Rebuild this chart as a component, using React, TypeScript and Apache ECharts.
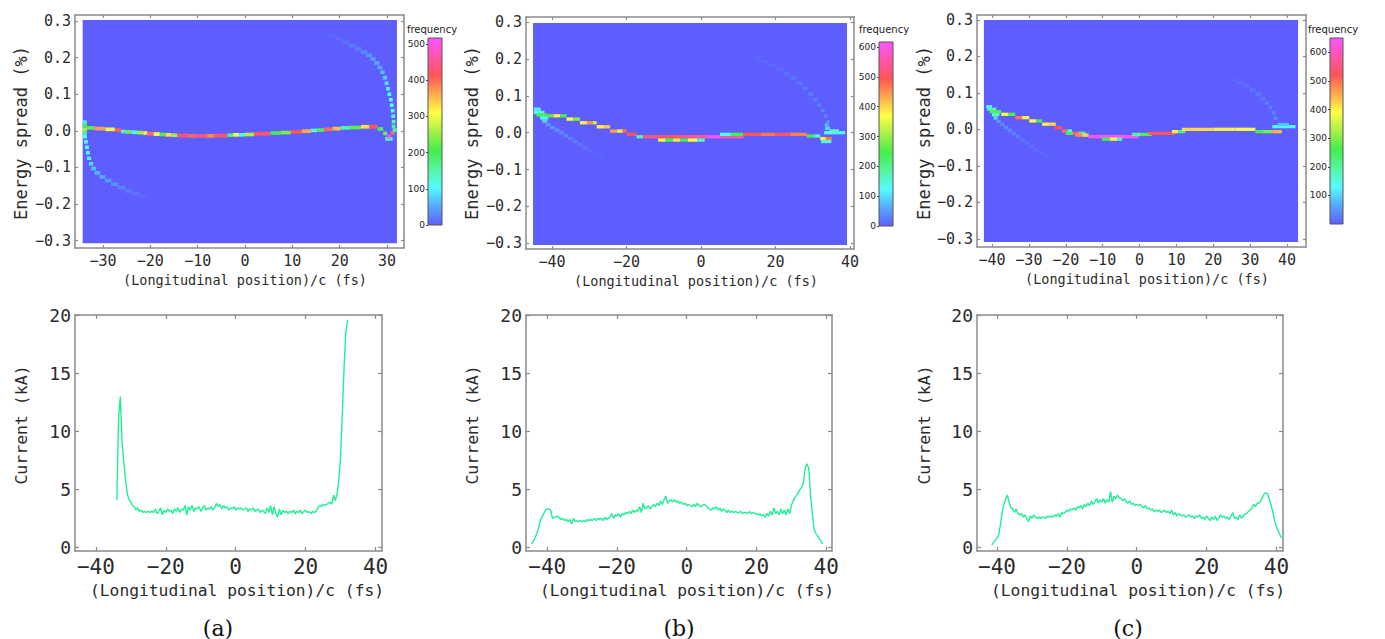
import React, { useEffect, useRef } from 'react';
import * as echarts from 'echarts';

// Current profiles (kA), sampled every CURRENT_STEP fs from the given start position.
const CURRENT_STEP = 0.5;

const CURRENT_A_START = -34;
const CURRENT_A = [
  4.1, 11.2, 13.0, 9.0, 7.3, 5.8, 4.6, 4.1, 3.9, 3.6, 3.5, 3.2, 3.4, 3.1, 3.2, 3.0, 3.1, 3.0, 3.1, 3.0,
  3.1, 3.0, 3.3, 2.9, 3.1, 3.4, 2.8, 3.2, 3.0, 3.3, 3.1, 3.2, 2.9, 3.3, 3.1, 3.4, 3.0, 3.3, 3.2, 3.6,
  2.8, 3.5, 3.2, 3.6, 3.1, 3.4, 3.3, 3.5, 3.1, 3.4, 3.6, 3.2, 3.4, 3.3, 3.5, 3.2, 3.4, 3.8, 3.5, 3.7,
  3.3, 3.6, 3.4, 3.5, 3.2, 3.4, 3.3, 3.5, 3.2, 3.4, 3.3, 3.4, 3.2, 3.3, 3.4, 3.1, 3.3, 3.2, 3.4, 3.1,
  3.2, 3.3, 3.0, 3.2, 3.1, 2.9, 3.4, 3.0, 3.6, 2.8, 3.5, 2.9, 2.6, 3.3, 2.8, 3.2, 3.0, 3.1, 2.9, 3.1,
  3.0, 3.2, 2.9, 3.1, 3.0, 3.2, 2.9, 3.1, 3.2, 3.0, 3.1, 2.9, 3.1, 3.0, 3.1, 3.4, 3.6, 3.5, 3.7, 3.6,
  3.7, 3.8, 3.9, 3.7, 4.5, 4.0, 4.6, 5.8, 7.8, 11.5, 15.5, 18.5, 19.6,
];

const CURRENT_B_START = -44.5;
const CURRENT_B = [
  0.3, 0.5, 0.8, 1.2, 1.6, 2.3, 2.6, 2.9, 3.2, 3.3, 3.3, 3.2, 2.5, 2.6, 2.6, 2.7, 2.5, 2.4, 2.5, 2.3,
  2.4, 2.2, 2.4, 2.0, 2.5, 2.2, 2.3, 2.2, 2.3, 2.2, 2.3, 2.2, 2.4, 2.3, 2.4, 2.3, 2.5, 2.3, 2.5, 2.4,
  2.5, 2.3, 2.6, 2.4, 2.5, 2.6, 2.9, 2.5, 2.8, 2.7, 2.9, 2.6, 2.9, 2.8, 3.0, 2.9, 3.1, 2.9, 3.2, 3.0,
  3.2, 3.1, 3.5, 3.0, 3.8, 3.3, 3.4, 3.6, 3.3, 3.5, 3.7, 3.5, 3.8, 3.6, 4.0, 3.7, 4.1, 4.4, 3.8, 4.0,
  4.1, 3.9, 4.1, 3.9, 4.0, 3.8, 3.9, 3.7, 3.8, 3.6, 3.7, 3.6, 3.5, 3.7, 3.5, 3.8, 3.6, 3.5, 3.6, 3.7,
  3.6, 3.4, 3.3, 3.2, 3.4, 3.3, 3.5, 3.2, 3.4, 3.1, 3.3, 3.2, 3.0, 3.2, 3.0, 3.1, 3.0, 3.1, 3.0, 3.0,
  3.1, 2.9, 3.0, 3.0, 2.9, 3.1, 2.9, 3.0, 2.9, 2.9, 2.8, 2.9, 2.7, 2.8, 2.6, 2.9, 2.7, 3.1, 2.8, 3.4,
  2.9, 3.1, 2.8, 3.3, 2.9, 3.2, 2.8, 3.3, 2.9, 3.6, 4.0, 4.3, 4.5, 4.7, 5.0, 5.2, 5.6, 6.9, 7.2, 6.8,
  4.5, 3.0, 1.6, 1.2, 1.0, 0.8, 0.5, 0.3,
];

const CURRENT_C_START = -41.5;
const CURRENT_C = [
  0.2, 0.4, 0.6, 0.8, 1.1, 2.0, 3.1, 3.7, 4.2, 4.5, 3.8, 3.4, 3.3, 3.0, 3.3, 2.9, 2.8, 2.9, 2.6, 2.8,
  2.5, 2.2, 2.7, 2.5, 2.8, 2.6, 2.5, 2.6, 2.5, 2.6, 2.6, 2.5, 2.7, 2.6, 2.7, 2.6, 2.8, 2.7, 2.9, 2.6,
  3.0, 2.9, 3.0, 3.2, 3.1, 3.3, 3.2, 3.4, 3.2, 3.5, 3.4, 3.6, 3.3, 3.7, 3.5, 3.8, 3.6, 4.0, 3.7, 3.9,
  4.2, 3.8, 4.1, 3.9, 4.2, 3.8, 4.1, 3.9, 4.8, 3.9, 4.4, 4.2, 4.5, 4.3, 4.2, 4.0, 4.2, 3.9, 3.8, 4.0,
  3.7, 3.8, 3.6, 3.7, 3.6, 3.7, 3.5, 3.4, 3.6, 3.3, 3.4, 3.2, 3.3, 3.1, 3.2, 3.1, 3.2, 3.0, 3.1, 3.2,
  3.0, 3.1, 2.9, 3.2, 2.8, 3.0, 2.7, 2.9, 2.8, 2.7, 2.8, 2.6, 2.7, 2.8, 2.6, 2.7, 2.5, 2.7, 2.6, 2.8,
  2.5, 2.6, 2.4, 2.7, 2.5, 2.3, 2.6, 2.4, 2.7, 2.3, 2.5, 2.8, 2.6, 2.7, 2.5, 2.6, 2.4, 2.7, 3.0, 2.5,
  2.6, 2.4, 2.8, 2.5, 2.7, 2.9, 2.9, 3.1, 3.2, 3.4, 3.7, 3.5, 3.8, 3.8, 4.0, 4.3, 4.6, 4.7, 4.6, 4.1,
  3.6, 3.0, 2.3, 1.8, 1.4, 1.1, 0.8,
];

// Longitudinal phase-space histograms.
// Extent: [x min (fs), x max (fs), energy spread min (%), energy spread max (%)]
// Runs: [x start (fs), x end (fs), energy-spread bin centre (%), frequency]
const PHASE_A_EXTENT = [-34.3, 32.1, -0.307, 0.303];
const PHASE_A_BIN = 0.01;
const PHASE_A_RUNS = [
  // tail below the head
  [-34.0, -33.2, -0.03, 110], [-33.8, -33.0, -0.045, 110], [-33.6, -32.8, -0.06, 100], [-33.4, -32.5, -0.075, 95],
  [-33.0, -32.1, -0.09, 85], [-32.5, -31.5, -0.103, 70], [-31.8, -30.6, -0.115, 60], [-30.8, -29.5, -0.126, 50],
  [-29.6, -28.2, -0.136, 42], [-28.3, -26.8, -0.146, 34], [-26.9, -25.3, -0.155, 26], [-25.4, -23.8, -0.164, 18],
  [-23.9, -22.2, -0.172, 12], [-22.3, -20.6, -0.18, 7],
  // tail above the tail end
  [31.0, 31.8, 0.012, 160], [31.0, 31.8, 0.025, 150], [30.9, 31.7, 0.04, 140], [30.8, 31.6, 0.055, 130],
  [30.6, 31.4, 0.07, 120], [30.4, 31.2, 0.085, 110], [30.1, 30.9, 0.1, 100], [29.8, 30.6, 0.115, 95],
  [29.5, 30.3, 0.13, 85], [29.1, 30.0, 0.145, 75], [28.6, 29.5, 0.16, 65], [28.0, 29.0, 0.173, 55],
  [27.3, 28.4, 0.185, 50], [26.5, 27.6, 0.196, 45], [25.5, 26.8, 0.206, 38], [24.4, 25.8, 0.215, 30],
  [23.2, 24.6, 0.224, 24], [21.9, 23.4, 0.233, 18], [20.5, 22.0, 0.242, 14], [19.0, 20.6, 0.251, 10],
  [17.5, 19.1, 0.26, 7],
  // head spike
  [-34.3, -33.4, 0.024, 90], [-34.3, -33.4, 0.014, 200], [-34.3, -33.4, 0.004, 260], [-34.3, -33.4, -0.006, 170],
  [-34.3, -33.4, -0.016, 110],
  // core
  [-33.4, -31.8, 0.008, 220], [-31.8, -29.5, 0.006, 370], [-29.5, -27.5, 0.004, 300], [-27.5, -26.2, 0.002, 410],
  [-26.2, -25.2, -0.002, 140], [-25.2, -24.0, -0.003, 230], [-24.0, -22.8, -0.004, 120], [-22.8, -21.5, -0.005, 250],
  [-21.5, -20.6, -0.006, 320], [-20.6, -19.3, -0.008, 400], [-19.3, -18.0, -0.009, 310], [-18.0, -16.8, -0.01, 210],
  [-16.8, -15.5, -0.011, 330], [-15.5, -14.3, -0.012, 250], [-14.3, -12.0, -0.013, 430], [-12.0, -10.5, -0.014, 400],
  [-10.5, -8.0, -0.014, 440], [-8.0, -6.5, -0.014, 380], [-6.5, -3.7, -0.013, 430], [-3.7, -2.5, -0.012, 180],
  [-2.5, -1.2, -0.011, 300], [-1.2, 0.0, -0.011, 120], [0.0, 1.9, -0.01, 260], [1.9, 5.4, -0.008, 430],
  [5.4, 7.5, -0.006, 200], [7.5, 9.7, -0.005, 230], [9.7, 12.0, -0.003, 420], [12.0, 13.9, -0.001, 360],
  [13.9, 15.3, 0.001, 130], [15.3, 16.7, 0.002, 200], [16.7, 18.5, 0.004, 400], [18.5, 20.2, 0.006, 350],
  [20.2, 22.2, 0.008, 150], [22.2, 24.5, 0.009, 220], [24.5, 26.3, 0.011, 330], [26.3, 28.0, 0.011, 420],
  [28.0, 29.2, 0.005, 200], [29.2, 30.0, -0.007, 230], [29.6, 31.2, -0.022, 150], [30.0, 30.8, -0.016, 510],
  [30.8, 31.6, -0.006, 400], [31.2, 32.1, 0.002, 150],
];

const PHASE_B_EXTENT = [-45.1, 39.2, -0.305, 0.298];
const PHASE_B_BIN = 0.009;
const PHASE_B_RUNS = [
  [-42.5, -41.5, 0.03, 60], [-41.6, -40.4, 0.022, 50], [-40.5, -39.2, 0.014, 45], [-39.3, -38.0, 0.007, 40],
  [-38.1, -36.8, 0.0, 36], [-36.9, -35.6, -0.008, 32], [-35.7, -34.4, -0.016, 28], [-34.5, -33.1, -0.024, 24],
  [-33.2, -31.8, -0.032, 20], [-31.9, -30.4, -0.041, 16], [-30.5, -29.0, -0.05, 12], [-29.1, -27.5, -0.058, 9],
  [-27.6, -26.0, -0.066, 6],
  [33.6, 34.6, 0.03, 40], [33.0, 34.0, 0.045, 35], [32.2, 33.2, 0.06, 32], [31.2, 32.3, 0.075, 30],
  [30.0, 31.3, 0.09, 28], [28.7, 30.1, 0.105, 25], [27.2, 28.8, 0.12, 22], [25.6, 27.3, 0.134, 20],
  [23.9, 25.7, 0.148, 18], [22.1, 24.0, 0.16, 15], [20.2, 22.2, 0.172, 12], [18.3, 20.3, 0.183, 10],
  [16.3, 18.4, 0.193, 8], [14.5, 16.4, 0.202, 6],
  [-44.9, -43.0, 0.064, 110], [-44.9, -42.0, 0.055, 140], [-44.2, -41.2, 0.048, 250], [-43.2, -41.0, 0.04, 130],
  [-42.6, -41.2, 0.033, 90],
  [-41.2, -39.6, 0.046, 260], [-39.6, -37.8, 0.046, 380], [-37.8, -36.1, 0.046, 250],
  [-36.1, -34.3, 0.037, 370], [-34.3, -32.5, 0.037, 280],
  [-32.5, -30.6, 0.027, 380], [-30.6, -29.0, 0.027, 450], [-29.0, -28.0, 0.027, 330],
  [-28.0, -26.0, 0.016, 380], [-26.0, -24.4, 0.016, 410],
  [-24.4, -22.5, 0.0044, 440], [-22.5, -21.0, 0.0044, 380], [-21.0, -19.9, 0.0044, 480],
  [-19.9, -17.3, -0.0045, 500],
  [-17.3, -15.5, -0.011, 180], [-15.5, -11.0, -0.011, 520], [-11.0, -5.6, -0.011, 500], [-5.6, 1.6, -0.011, 540],
  [-11.5, -9.5, -0.02, 360], [-9.5, -7.5, -0.02, 250], [-7.5, -5.5, -0.02, 390], [-5.5, -3.5, -0.02, 250],
  [-3.5, -1.0, -0.02, 370], [-1.0, 1.0, -0.02, 160],
  [1.6, 5.1, -0.011, 610], [5.1, 11.4, -0.011, 560], [5.1, 8.0, -0.0045, 130], [8.0, 11.4, -0.0045, 250],
  [11.4, 16.0, -0.0045, 500], [16.0, 20.0, -0.0045, 470], [20.0, 24.0, -0.0045, 510], [24.0, 28.4, -0.0045, 460],
  [28.4, 30.5, -0.009, 250], [30.5, 32.0, -0.009, 140],
  [32.0, 33.5, -0.016, 380], [33.5, 35.1, -0.016, 470], [32.2, 35.0, -0.024, 150],
  [33.0, 38.7, 0.0, 120], [34.5, 37.0, 0.005, 160], [33.3, 34.6, 0.012, 100], [33.2, 34.3, 0.021, 70],
];

const PHASE_C_EXTENT = [-42.2, 43.0, -0.309, 0.2995];
const PHASE_C_BIN = 0.009;
const PHASE_C_RUNS = [
  [-39.6, -38.6, 0.03, 55], [-38.8, -37.6, 0.022, 48], [-37.8, -36.6, 0.013, 42], [-36.8, -35.6, 0.005, 38],
  [-35.8, -34.6, -0.003, 34], [-34.8, -33.5, -0.011, 30], [-33.6, -32.3, -0.02, 26], [-32.4, -31.1, -0.029, 22],
  [-31.2, -29.9, -0.038, 18], [-30.0, -28.6, -0.047, 15], [-28.7, -27.3, -0.056, 12], [-27.4, -26.0, -0.064, 9],
  [-26.1, -24.6, -0.072, 6],
  [36.4, 37.4, 0.03, 40], [35.8, 36.8, 0.045, 36], [35.0, 36.0, 0.06, 32], [34.0, 35.1, 0.072, 30],
  [32.8, 34.1, 0.084, 27], [31.4, 32.9, 0.096, 24], [29.8, 31.5, 0.108, 20], [28.1, 29.9, 0.119, 16],
  [26.4, 28.2, 0.128, 12], [24.6, 26.5, 0.136, 8],
  [-41.6, -40.0, 0.062, 120], [-41.3, -38.8, 0.055, 180], [-40.6, -37.5, 0.048, 270], [-40.0, -38.0, 0.04, 160],
  [-39.5, -38.5, 0.032, 100],
  [-37.5, -35.5, 0.041, 380], [-35.5, -33.7, 0.041, 270],
  [-33.7, -31.9, 0.032, 500], [-31.9, -29.9, 0.032, 400],
  [-29.9, -28.0, 0.023, 390], [-28.0, -26.4, 0.023, 260],
  [-26.4, -24.5, 0.014, 400], [-24.5, -22.7, 0.014, 420],
  [-23.0, -21.0, 0.0043, 520],
  [-21.0, -19.5, -0.0046, 500], [-19.5, -18.3, -0.0046, 140],
  [-20.0, -18.0, -0.011, 250], [-18.0, -16.5, -0.011, 510], [-16.5, -14.6, -0.011, 200],
  [-17.4, -15.5, -0.016, 480], [-15.5, -13.8, -0.016, 420],
  [-13.8, -0.2, -0.02, 640],
  [-10.2, -8.0, -0.027, 260], [-8.0, -6.0, -0.027, 380], [-6.0, -4.7, -0.027, 180],
  [-2.0, 0.5, -0.014, 190], [0.5, 3.4, -0.014, 270],
  [2.5, 9.7, -0.011, 530],
  [8.8, 10.5, -0.0064, 400], [10.5, 12.4, -0.0064, 220],
  [11.5, 20.0, 0.0, 420], [20.0, 26.0, 0.0, 400], [26.0, 31.4, 0.0, 390],
  [31.4, 33.5, -0.0064, 260], [33.5, 36.0, -0.0064, 290], [36.0, 38.6, -0.0064, 450],
  [36.0, 42.3, 0.0073, 130], [37.5, 40.5, 0.013, 90],
];

// Colour-bar ranges and ticks
const FREQ_MAX = [517, 617, 650];
const FREQ_TICKS_A = [0, 100, 200, 300, 400, 500];
const FREQ_TICKS_B = [0, 100, 200, 300, 400, 500, 600];
const FREQ_TICKS_C = [100, 200, 300, 400, 500, 600];

// Axis ticks
const PHASE_X_TICKS_A = [-30, -20, -10, 0, 10, 20, 30];
const PHASE_X_TICKS_B = [-40, -20, 0, 20, 40];
const PHASE_X_TICKS_C = [-40, -30, -20, -10, 0, 10, 20, 30, 40];
const PHASE_Y_TICKS = [-0.3, -0.2, -0.1, 0, 0.1, 0.2, 0.3];
const CURRENT_X_TICKS = [-40, -20, 0, 20, 40];
const CURRENT_Y_TICKS = [0, 5, 10, 15, 20];

const PANEL_LABELS = ['(a)', '(b)', '(c)'];
const X_TITLE = '(Longitudinal position)/c (fs)';
const PHASE_Y_TITLE = 'Energy spread (%)';
const CURRENT_Y_TITLE = 'Current (kA)';

// Styling
const MONO = '"DejaVu Sans Mono", monospace';
const SANS = '"DejaVu Sans", sans-serif';
const TEXT = '#2b2b2b';
const FRAME = '#8a8a8a';
const LINE = '#1ef096';
const PALETTE = ['#5e5eff', '#58a8ff', '#55fbff', '#55f5a0', '#44ee4c', '#a8f048', '#ffff44', '#ffaa4c', '#ff5555', '#ff55aa', '#ff55ff'];

// Pixel layout of each panel column
const LAYOUT = [
  {
    phase: { left: 75, top: 15, width: 329, height: 233, xMin: -35.92, xMax: 33.59, yMin: -0.3202, yMax: 0.3164 },
    bar: { left: 428, top: 38, width: 14, height: 187 },
    current: { left: 75, top: 315, width: 307, height: 236, xMin: -45.97, xMax: 41.85, yMin: -0.32, yMax: 20.03 },
    titleX: 21, phaseTitleX: 245, phaseTitleY: 280, currentTitleX: 237, freqX: 432, label: 218,
  },
  {
    phase: { left: 526, top: 17, width: 328, height: 232, xMin: -46.98, xMax: 41.07, yMin: -0.316, yMax: 0.3144 },
    bar: { left: 879, top: 42, width: 14, height: 184 },
    current: { left: 526, top: 315, width: 306, height: 236, xMin: -46.08, xMax: 41.66, yMin: -0.32, yMax: 20.03 },
    titleX: 472, phaseTitleX: 696, phaseTitleY: 281, currentTitleX: 687, freqX: 884, label: 679,
  },
  {
    phase: { left: 977, top: 15, width: 329, height: 232, xMin: -44.07, xMax: 45.15, yMin: -0.3225, yMax: 0.3132 },
    bar: { left: 1330, top: 38, width: 13, height: 186 },
    current: { left: 977, top: 315, width: 306, height: 236, xMin: -45.73, xMax: 41.89, yMin: -0.32, yMax: 20.03 },
    titleX: 924, phaseTitleX: 1147, phaseTitleY: 279, currentTitleX: 1138, freqX: 1333, label: 1128,
  },
];

const signed = (v: number, digits: number) => {
  const s = Math.abs(v).toFixed(digits);
  return v < -1e-9 ? '\u2212' + s : s;
};

function frameAxes(
  gridIndex: number,
  box: any,
  xTicks: number[],
  yTicks: number[],
  xFmt: (v: number) => string,
  yFmt: (v: number) => string,
  xFont: number,
  yFont: number,
  tickLen: number,
) {
  const line = { show: true, onZero: false, lineStyle: { color: FRAME, width: 1.5 } };
  const tick = (vals: number[]) => ({
    show: true, inside: true, length: tickLen, customValues: vals, lineStyle: { color: FRAME, width: 1.2 },
  });
  const xAxis = [
    {
      type: 'value', gridIndex, position: 'bottom', min: box.xMin, max: box.xMax,
      axisLine: line, axisTick: tick(xTicks), splitLine: { show: false },
      axisLabel: {
        customValues: xTicks, formatter: (v: number) => xFmt(v), fontFamily: MONO, fontSize: xFont,
        color: TEXT, margin: 5,
      },
    },
    {
      type: 'value', gridIndex, position: 'top', min: box.xMin, max: box.xMax,
      axisLine: line, axisTick: tick(xTicks), splitLine: { show: false }, axisLabel: { show: false },
    },
  ];
  const yAxis = [
    {
      type: 'value', gridIndex, position: 'left', min: box.yMin, max: box.yMax,
      axisLine: line, axisTick: tick(yTicks), splitLine: { show: false },
      axisLabel: {
        customValues: yTicks, formatter: (v: number) => yFmt(v), fontFamily: MONO, fontSize: yFont,
        color: TEXT, margin: 4, padding: [0, 0, 8, 0],
      },
    },
    {
      type: 'value', gridIndex, position: 'right', min: box.yMin, max: box.yMax,
      axisLine: line, axisTick: tick(yTicks), splitLine: { show: false }, axisLabel: { show: false },
    },
  ];
  return { xAxis, yAxis };
}

function cells(extent: number[], bin: number, runs: number[][]) {
  const items: number[][] = [[extent[0], extent[1], extent[2], extent[3], 0]];
  runs.forEach(([x0, x1, y, f]) => items.push([x0, x1, y - bin / 2, y + bin / 2, f]));
  return items;
}

function profile(start: number, values: number[]) {
  return values.map((v, i) => [start + i * CURRENT_STEP, v]);
}

function rectItem(_params: any, api: any) {
  const p0 = api.coord([api.value(0), api.value(3)]);
  const p1 = api.coord([api.value(1), api.value(2)]);
  return {
    type: 'rect',
    shape: { x: p0[0], y: p0[1], width: p1[0] - p0[0], height: p1[1] - p0[1] },
    style: { fill: api.visual('color') },
  };
}

function buildOption() {
  const heat = [
    cells(PHASE_A_EXTENT, PHASE_A_BIN, PHASE_A_RUNS),
    cells(PHASE_B_EXTENT, PHASE_B_BIN, PHASE_B_RUNS),
    cells(PHASE_C_EXTENT, PHASE_C_BIN, PHASE_C_RUNS),
  ];
  const phaseXTicks = [PHASE_X_TICKS_A, PHASE_X_TICKS_B, PHASE_X_TICKS_C];
  const freqTicks = [FREQ_TICKS_A, FREQ_TICKS_B, FREQ_TICKS_C];
  const currents = [
    profile(CURRENT_A_START, CURRENT_A),
    profile(CURRENT_B_START, CURRENT_B),
    profile(CURRENT_C_START, CURRENT_C),
  ];

  const grid: any[] = [];
  const xAxis: any[] = [];
  const yAxis: any[] = [];
  const series: any[] = [];
  const visualMap: any[] = [];
  const graphic: any[] = [];

  // phase-space panels: grids 0..2, axes 0..5
  LAYOUT.forEach((L, i) => {
    const b = L.phase;
    grid.push({ left: b.left, top: b.top, width: b.width, height: b.height, containLabel: false });
    const ax = frameAxes(i, b, phaseXTicks[i], PHASE_Y_TICKS, (v) => signed(v, 0), (v) => signed(v, 1), 15, 15, 3);
    xAxis.push(...ax.xAxis);
    yAxis.push(...ax.yAxis);
  });
  // colour bars: grids 3..5, axes 6..8
  LAYOUT.forEach((L, i) => {
    const b = L.bar;
    grid.push({ left: b.left, top: b.top, width: b.width, height: b.height });
    xAxis.push({ type: 'value', gridIndex: 3 + i, min: 0, max: 1, show: false });
    yAxis.push({
      type: 'value', gridIndex: 3 + i, position: 'left', min: 0, max: FREQ_MAX[i],
      axisLine: { show: false }, splitLine: { show: false },
      axisTick: { show: true, inside: false, length: 2, customValues: freqTicks[i], lineStyle: { color: '#444', width: 1 } },
      axisLabel: { customValues: freqTicks[i], fontFamily: SANS, fontSize: 9, color: '#222', margin: 3 },
    });
  });
  // current panels: grids 6..8, axes 9..14
  LAYOUT.forEach((L, i) => {
    const b = L.current;
    grid.push({ left: b.left, top: b.top, width: b.width, height: b.height });
    const ax = frameAxes(6 + i, b, CURRENT_X_TICKS, CURRENT_Y_TICKS, (v) => signed(v, 0), (v) => signed(v, 0), 21, 18, 4);
    xAxis.push(...ax.xAxis);
    yAxis.push(...ax.yAxis);
  });

  // series 0..2: histograms
  heat.forEach((data, i) => {
    series.push({
      type: 'custom', name: 'phase' + i, xAxisIndex: 2 * i, yAxisIndex: 2 * i,
      data, encode: { x: [0, 1], y: [2, 3] }, renderItem: rectItem, silent: true, clip: true,
    });
    visualMap.push({
      type: 'continuous', show: false, seriesIndex: i, dimension: 4, min: 0, max: FREQ_MAX[i],
      inRange: { color: PALETTE },
    });
  });
  // series 3..5: colour bars
  LAYOUT.forEach((_L, i) => {
    series.push({
      type: 'custom', name: 'bar' + i, xAxisIndex: 6 + i, yAxisIndex: 6 + i,
      data: [[0, 1, 0, FREQ_MAX[i]]], encode: { x: [0, 1], y: [2, 3] }, silent: true,
      renderItem: (_p: any, api: any) => {
        const p0 = api.coord([api.value(0), api.value(3)]);
        const p1 = api.coord([api.value(1), api.value(2)]);
        return {
          type: 'rect',
          shape: { x: p0[0], y: p0[1], width: p1[0] - p0[0], height: p1[1] - p0[1] },
          style: {
            fill: new echarts.graphic.LinearGradient(0, 1, 0, 0,
              PALETTE.map((c, k) => ({ offset: k / (PALETTE.length - 1), color: c }))),
            stroke: '#555', lineWidth: 1,
          },
        };
      },
    });
  });
  // series 6..8: current profiles
  currents.forEach((data, i) => {
    series.push({
      type: 'line', name: 'current' + i, xAxisIndex: 9 + 2 * i, yAxisIndex: 9 + 2 * i,
      data, showSymbol: false, symbol: 'none', silent: true,
      lineStyle: { color: LINE, width: 1.4 },
    });
  });

  // titles and panel labels
  const text = (x: number, y: number, t: string, font: string, rotation = 0, fill = TEXT) => ({
    type: 'text', x, y, rotation, silent: true,
    style: { text: t, font, fill, align: 'center', verticalAlign: 'middle', textAlign: 'center', textVerticalAlign: 'middle' },
  });
  LAYOUT.forEach((L, i) => {
    graphic.push(text(L.phaseTitleX, L.phaseTitleY, X_TITLE, `13.5px ${MONO}`));
    graphic.push(text(L.titleX, 133, PHASE_Y_TITLE, `17px ${MONO}`, Math.PI / 2));
    graphic.push(text(L.currentTitleX, 590, X_TITLE, `16.3px ${MONO}`));
    graphic.push(text(L.titleX, 425, CURRENT_Y_TITLE, `16.5px ${MONO}`, Math.PI / 2));
    graphic.push(text(L.freqX, 29, 'frequency', `10px ${SANS}`, 0, '#222'));
    graphic.push(text(L.label, 628, PANEL_LABELS[i], `22px "DejaVu Serif", "Liberation Serif", serif`, 0, '#111'));
  });

  return {
    animation: false,
    backgroundColor: '#ffffff',
    grid, xAxis, yAxis, series, visualMap, graphic,
  };
}

export default function App() {
  const ref = useRef<HTMLDivElement>(null);
  useEffect(() => {
    if (!ref.current) return;
    const chart = echarts.init(ref.current, undefined, { renderer: 'svg' });
    chart.setOption(buildOption() as any);
    return () => chart.dispose();
  }, []);
  return (
    <div
      ref={ref}
      style={{ position: 'absolute', left: 0, top: 0, width: 1385, height: 639, background: '#fff' }}
    />
  );
}
